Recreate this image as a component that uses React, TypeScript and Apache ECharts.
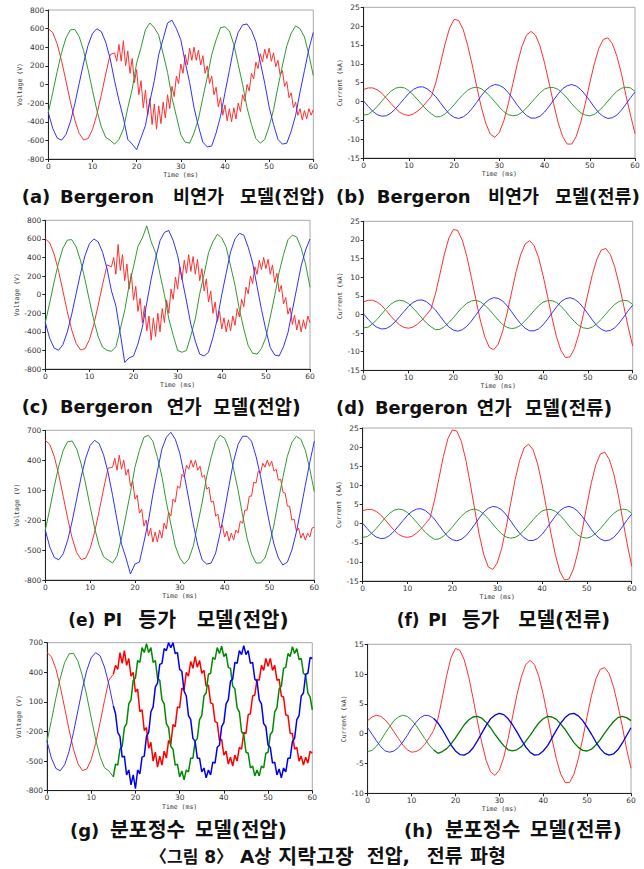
import React, { useEffect, useRef } from "react";
import * as echarts from "echarts";

// ---------- time bases (ms) ----------
const tMs = [0,1,2,3,4,5,6,7,8,9,10,11,12,13,14,15,16,17,18,19,20,21,22,23,24,25,26,27,28,29,30,31,32,33,34,35,36,37,38,39,40,41,42,43,44,45,46,47,48,49,50,51,52,53,54,55,56,57,58,59,60];
const tFine = [15,15.5,16,16.5,17,17.5,18,18.5,19,19.5,20,20.5,21,21.5,22,22.5,23,23.5,24,24.5,25,25.5,26,26.5,27,27.5,28,28.5,29,29.5,30,30.5,31,31.5,32,32.5,33,33.5,34,34.5,35,35.5,36,36.5,37,37.5,38,38.5,39,39.5,40,40.5,41,41.5,42,42.5,43,43.5,44,44.5,45,45.5,46,46.5,47,47.5,48,48.5,49,49.5,50,50.5,51,51.5,52,52.5,53,53.5,54,54.5,55,55.5,56,56.5,57,57.5,58,58.5,59,59.5,60];

// ---------- voltages before the fault (0..14 ms) ----------
const vPreRed = [600,558,437,255,38,-185,-382,-526,-595,-581,-485,-321,-112,112,321];
const vPreGreen = [-300,-88,137,342,500,587,592,513,363,161,-63,-278,-454,-567,-599];
const vPreBlue = [-300,-470,-574,-598,-537,-401,-209,13,233,420,548,599,568,454,278];

// ---------- (a) Bergeron untransposed, voltage after the fault ----------
const aRedPost = [340,250,430,250,470,200,360,120,280,20,160,-110,40,-250,-60,-330,-150,-430,-210,-480,-230,-420,-190,-360,-110,-260,-20,-130,90,10,220,120,320,210,390,260,400,260,370,210,310,120,200,10,90,-110,-30,-240,-140,-330,-220,-390,-260,-400,-250,-370,-200,-290,-110,-180,0,-70,120,60,240,170,330,240,380,280,390,250,340,190,260,100,150,-20,30,-140,-90,-250,-190,-330,-260,-380,-280,-370,-260,-330,-270];
const aGreenPost = [-640,-590,-480,-250,-50,230,400,590,660,610,530,330,130,-140,-340,-540,-620,-630,-520,-370,-140,80,320,480,610,620,575,430,215,0,-250,-430,-580,-630,-590,-450,-270,-25,200,415,550,630,600,510,320,95];
const aBluePost = [40,-170,-360,-590,-640,-700,-570,-440,-180,40,320,490,660,690,600,480,240,20,-250,-450,-620,-670,-660,-520,-340,-90,150,400,560,640,650,580,460,240,15,-240,-430,-590,-640,-630,-500,-330,-80,150,380,560];

// ---------- (c) Bergeron transposed, voltage after the fault ----------
const cRedPost = [300,400,220,540,260,430,150,330,60,230,-60,90,-180,-40,-300,-120,-390,-230,-490,-250,-450,-200,-400,-150,-300,-60,-200,60,-50,190,60,300,160,370,230,430,250,410,220,380,150,280,40,170,-80,40,-200,-80,-290,-180,-370,-250,-400,-270,-390,-230,-330,-150,-240,-50,-130,80,10,200,120,300,220,370,270,400,280,380,220,320,130,230,30,100,-100,-30,-210,-140,-320,-220,-380,-270,-400,-270,-370,-230,-300];
const cGreenPost = [-610,-560,-370,-170,100,300,520,610,740,570,450,220,0,-260,-440,-600,-620,-600,-440,-260,10,220,450,570,650,610,510,310,100,-160,-370,-550,-630,-640,-580,-460,-240,-10,240,430,590,640,620,500,330,80];
const cBluePost = [40,-120,-420,-730,-680,-660,-530,-350,-90,170,390,580,670,690,580,420,170,-70,-320,-500,-640,-660,-620,-460,-260,0,230,460,600,660,640,510,340,90,-160,-380,-570,-650,-660,-560,-410,-170,70,310,480,600];

// ---------- (e) PI model, voltage after the fault ----------
const eRedPost = [330,420,300,450,310,400,250,310,140,190,10,50,-130,-90,-260,-200,-360,-280,-420,-320,-420,-300,-380,-230,-290,-120,-160,10,-20,140,120,260,230,350,310,400,330,400,300,340,230,250,110,130,-20,-10,-160,-140,-280,-250,-370,-310,-410,-330,-400,-300,-330,-210,-230,-100,-100,40,40,180,170,290,270,370,330,400,340,390,290,310,200,210,80,70,-60,-60,-200,-190,-310,-280,-380,-330,-400,-330,-370,-280,-270];
const eGreenPost = [-630,-560,-380,-150,80,330,500,630,650,590,430,240,-20,-240,-460,-580,-640,-590,-460,-240,-20,240,430,590,650,620,510,310,100,-150,-380,-540,-630,-630,-580,-440,-250,0,230,440,580,640,610,500,310,85];
const eBluePost = [50,-200,-440,-580,-740,-640,-620,-420,-210,60,290,510,630,680,610,470,250,10,-240,-450,-600,-640,-630,-530,-330,-100,150,390,560,640,640,590,440,240,0,-230,-440,-580,-650,-620,-500,-320,-90,150,380,590];

// ---------- (g) distributed-parameter model, voltage after the fault ----------
const gRedPost = [380,470,430,600,490,620,470,540,360,400,200,230,0,20,-190,-160,-370,-310,-500,-410,-560,-450,-540,-400,-470,-290,-330,-130,-150,50,40,240,220,400,360,510,440,560,450,520,390,420,260,270,90,80,-100,-110,-290,-280,-440,-400,-530,-460,-550,-440,-500,-360,-380,-210,-220,-30,-20,160,170,330,320,470,420,540,460,540,420,470,320,330,160,150,-30,-40,-220,-220,-380,-360,-500,-450,-540,-460,-520,-400,-420];
const gGreenPost = [-660,-530,-540,-380,-350,-160,-120,80,120,320,340,520,500,650,600,690,600,650,500,520,340,320,120,80,-120,-160,-350,-380,-540,-530,-660,-600,-690,-590,-610,-470,-470,-300,-270,-80,-40,160,190,380,390,550,530,650,590,665,560,590,450,440,260,230,40,0,-200,-230,-410,-420,-570,-550,-650,-590,-650,-550,-570,-420,-410,-230,-200,0,40,230,260,440,450,590,560,660,590,640,530,540,390,370,190,150,20];
const gBluePost = [60,-20,-210,-250,-460,-450,-640,-590,-740,-640,-780,-590,-630,-460,-450,-250,-210,0,50,250,290,480,490,640,620,700,650,700,590,600,430,410,210,160,-40,-80,-270,-300,-470,-470,-610,-570,-670,-590,-640,-510,-520,-360,-340,-150,-110,80,120,310,330,500,490,620,580,670,580,620,490,500,330,310,120,80,-120,-150,-340,-360,-520,-510,-640,-580,-670,-570,-610,-470,-470,-300,-270,-80,-40,160,190,380,390,550,540];

// ---------- currents (kA), 0..60 ms ----------
const curRedB = [3.2,3.6,3.6,3.1,2.2,0.9,-0.5,-1.8,-2.9,-3.5,-3.7,-3.3,-2.5,-1.4,0.0,1.4,5.2,10.2,15.3,19.5,21.8,21.5,19.1,14.9,9.7,3.9,-1.5,-5.8,-8.7,-9.5,-8.2,-5.1,-0.5,4.8,10.1,14.6,17.6,18.6,17.6,14.7,10.2,4.9,-0.6,-5.6,-9.3,-11.3,-11.3,-9.3,-5.5,-0.6,4.9,10.0,14.1,16.5,16.9,15.3,12.0,7.4,1.6,-3.6,-8.5];
const curRedD = [3.4,3.8,3.8,3.3,2.4,1.1,-0.4,-1.7,-2.8,-3.5,-3.7,-3.4,-2.6,-1.5,-0.1,1.4,5.5,10.8,16.2,20.5,22.8,22.5,19.9,15.6,10.0,4.1,-1.5,-6.0,-8.8,-9.5,-8.0,-4.5,0.4,6.0,11.5,16.0,18.9,19.8,18.5,15.3,10.5,4.9,-0.9,-6.0,-9.7,-11.6,-11.4,-9.2,-5.2,0.0,5.5,10.7,14.8,17.3,17.7,16.1,12.7,7.9,2.3,-3.4,-8.5];
const curRedF = [3.4,3.7,3.7,3.2,2.3,1.0,-0.4,-1.7,-2.8,-3.4,-3.6,-3.3,-2.5,-1.4,0.0,1.4,6.0,11.8,17.6,22.2,24.5,24.2,21.5,16.7,10.4,3.6,-2.9,-8.1,-11.3,-12.0,-10.3,-6.5,-1.0,5.3,11.5,16.5,19.8,20.8,19.3,15.7,10.3,3.9,-2.6,-8.3,-12.6,-14.7,-14.5,-11.9,-7.4,-1.5,4.8,10.7,15.4,18.2,18.7,16.8,13.0,7.6,1.0,-5.3,-11.1];
const curRedH = [2.2,2.8,3.1,2.9,2.3,1.4,0.3,-0.8,-1.9,-2.7,-3.1,-3.0,-2.6,-1.8,-0.7,0.5,2.5,6.0,9.8,12.8,14.3,14.0,12.4,9.6,6.0,2.1,-1.5,-4.5,-6.4,-7.0,-6.1,-4.0,-0.8,2.8,6.5,9.5,11.6,12.3,11.6,9.6,6.6,2.9,-0.9,-4.3,-6.8,-8.2,-8.2,-6.8,-4.2,-0.8,2.9,6.4,9.2,10.8,11.1,10.1,7.9,4.8,1.3,-2.6,-5.8];
const curBlueB = [0.1,-1.3,-2.6,-3.5,-3.9,-3.8,-3.1,-2.0,-0.6,0.8,2.2,3.2,3.8,3.9,3.4,2.4,1.2,-0.4,-2.0,-3.4,-4.2,-4.5,-4.1,-3.2,-1.8,-0.2,1.5,3.0,4.0,4.5,4.3,3.6,2.3,0.7,-1.0,-2.5,-3.7,-4.4,-4.4,-3.9,-2.8,-1.3,0.4,2.0,3.4,4.2,4.5,4.1,3.2,1.8,0.2,-1.5,-3.0,-4.0,-4.5,-4.3,-3.6,-2.3,-0.7,1.0,2.5];
const curGreenB = [-3.6,-3.4,-2.5,-1.3,0.1,1.5,2.7,3.5,3.8,3.6,2.9,1.7,0.4,-1.0,-2.3,-3.3,-4.1,-4.0,-3.3,-2.2,-0.9,0.6,1.9,3.0,3.6,3.8,3.4,2.5,1.3,-0.1,-1.5,-2.7,-3.5,-3.8,-3.6,-2.9,-1.7,-0.4,1.0,2.3,3.3,3.7,3.7,3.2,2.2,0.9,-0.6,-1.9,-3.0,-3.6,-3.8,-3.4,-2.5,-1.3,0.1,1.5,2.7,3.5,3.8,3.6,2.7];
const curBlueH = [1.0,-0.1,-1.2,-2.2,-2.9,-3.1,-2.9,-2.3,-1.4,-0.3,0.9,1.9,2.7,3.1,3.0,2.6,1.8,0.7,-0.6,-1.9,-2.9,-3.5,-3.6,-3.2,-2.4,-1.2,0.1,1.4,2.5,3.1,3.4,3.2,2.5,1.5,0.3,-1.0,-2.2,-3.1,-3.6,-3.5,-2.9,-2.0,-0.7,0.6,1.8,2.7,3.3,3.4,3.0,2.2,1.1,-0.1,-1.4,-2.5,-3.3,-3.6,-3.4,-2.7,-1.6,-0.3,1.0];
const curGreenH = [-3.0,-2.8,-2.1,-1.1,0.1,1.2,2.2,2.8,3.1,2.9,2.3,1.4,0.3,-0.8,-1.9,-2.7,-3.3,-3.0,-2.5,-1.7,-0.7,0.4,1.5,2.3,2.8,2.9,2.6,1.9,1.0,-0.1,-1.1,-2.0,-2.7,-2.9,-2.7,-2.2,-1.3,-0.3,0.8,1.8,2.5,2.9,2.8,2.4,1.6,0.7,-0.4,-1.5,-2.3,-2.8,-2.9,-2.6,-1.9,-1.0,0.1,1.1,2.0,2.7,2.9,2.7,2.2];

// ---------- axis settings ----------
const voltTicksA = { min: -800, max: 800, interval: 200 };
const voltTicksE = { min: -800, max: 700, interval: 300 };
const curTicksB = { min: -15, max: 25, interval: 5 };
const curTicksH = { min: -10, max: 15, interval: 5 };

// ---------- captions: [text, left x, centre y, font size] ----------
const captions: [string, number, number, number][] = [
  ["(a)", 21.7, 196, 18], ["Bergeron", 60, 196, 18], ["비연가", 173, 196, 18.5], ["모델(전압)", 240, 196, 18.5],
  ["(b)", 336, 196, 18], ["Bergeron", 376.7, 196, 18], ["비연가", 488, 196, 18.5], ["모델(전류)", 555, 196, 18.5],
  ["(c)", 21.7, 406.5, 17.8], ["Bergeron", 60, 406.5, 17.8], ["연가", 166.7, 406.5, 19], ["모델(전압)", 213.3, 406.5, 19],
  ["(d)", 336, 407.5, 17.8], ["Bergeron", 375, 407.5, 17.8], ["연가", 476.7, 407.5, 19], ["모델(전류)", 525, 407.5, 19],
  ["(e)", 68.3, 620, 17], ["PI", 103.3, 620, 17], ["등가", 138.3, 620, 20.5], ["모델(전압)", 196.7, 620, 20],
  ["(f)", 396.7, 620, 17], ["PI", 428.3, 620, 17], ["등가", 461.7, 620, 20.5], ["모델(전류)", 518.3, 620, 20],
  ["(g)", 70, 830, 18], ["분포정수", 110, 830, 20.5], ["모델(전압)", 195, 830, 20],
  ["(h)", 404, 830, 18], ["분포정수", 445, 830, 20.5], ["모델(전류)", 530, 830, 20],
  ["〈그림 8〉", 150, 856.5, 17], ["A상", 240, 856.5, 18.5], ["지락고장", 278.3, 856.5, 20.5], ["전압,", 366.7, 856.5, 19.5], ["전류", 426.7, 856.5, 19.5], ["파형", 470, 856.5, 19.5],
];

const RED = "#ff3030";
const GREEN = "#2f9a2f";
const BLUE = "#3030ff";

const panels = [
  { l: 48.3, t: 10, w: 265, h: 149, ax: voltTicksA, name: "Voltage (V)" },
  { l: 363.7, t: 7.3, w: 271.3, h: 150.7, ax: curTicksB, name: "Current (kA)" },
  { l: 45.3, t: 220.3, w: 264.7, h: 148.7, ax: voltTicksA, name: "Voltage (V)" },
  { l: 363.7, t: 221.3, w: 269, h: 149, ax: curTicksB, name: "Current (kA)" },
  { l: 45.3, t: 430.3, w: 269, h: 149.7, ax: voltTicksE, name: "Voltage (V)" },
  { l: 362.7, t: 428, w: 269, h: 153, ax: curTicksB, name: "Current (kA)" },
  { l: 47, t: 642.7, w: 265.3, h: 148, ax: voltTicksE, name: "Voltage (V)" },
  { l: 367.7, t: 644.3, w: 263.3, h: 149, ax: curTicksH, name: "Current (kA)" },
];

const zip = (ts: number[], vs: number[]) => ts.map((t, i) => [t, vs[i]]);

function line(idx: number, ts: number[], vs: number[], color: string, width = 1) {
  return {
    type: "line",
    xAxisIndex: idx,
    yAxisIndex: idx,
    data: zip(ts, vs),
    showSymbol: false,
    symbol: "none",
    silent: true,
    animation: false,
    lineStyle: { color, width },
    itemStyle: { color },
  };
}

function buildOption() {
  const tPre = tMs.slice(0, 15);
  const tRedV = tPre.concat(tFine);
  const series: any[] = [];
  const volt: [number, number[], number[], number[]][] = [
    [0, aRedPost, aGreenPost, aBluePost],
    [2, cRedPost, cGreenPost, cBluePost],
    [4, eRedPost, eGreenPost, eBluePost],
  ];
  volt.forEach(([i, r, g, b]) => {
    series.push(line(i, tRedV, vPreRed.concat(r), RED));
    series.push(line(i, tMs, vPreGreen.concat(g), GREEN));
    series.push(line(i, tMs, vPreBlue.concat(b), BLUE));
  });
  const t016 = tMs.slice(0, 16);
  series.push(line(6, t016, vPreRed.concat([gRedPost[0]]), RED));
  series.push(line(6, t016, vPreGreen.concat([gGreenPost[0]]), GREEN));
  series.push(line(6, t016, vPreBlue.concat([gBluePost[0]]), BLUE));
  series.push(line(6, tFine, gRedPost, "#ff0000", 1.5));
  series.push(line(6, tFine, gGreenPost, "#008a00", 1.5));
  series.push(line(6, tFine, gBluePost, "#0000f0", 1.5));
  const cur: [number, number[]][] = [[1, curRedB], [3, curRedD], [5, curRedF]];
  cur.forEach(([i, r]) => {
    series.push(line(i, tMs, r, RED));
    series.push(line(i, tMs, curGreenB, GREEN));
    series.push(line(i, tMs, curBlueB, BLUE));
  });
  const t15 = tMs.slice(15);
  series.push(line(7, tMs, curRedH, RED));
  series.push(line(7, t016, curGreenH.slice(0, 16), GREEN));
  series.push(line(7, t15, curGreenH.slice(15), "#007a00", 1.3));
  series.push(line(7, t016, curBlueH.slice(0, 16), BLUE));
  series.push(line(7, t15, curBlueH.slice(15), "#0000e0", 1.3));

  const labelStyle = { fontSize: 7.5, color: "#333", fontFamily: "DejaVu Sans" };
  const nameStyle = { fontSize: 6.5, color: "#333", fontFamily: "DejaVu Sans Mono" };
  const axisLine = { show: true, onZero: false, lineStyle: { color: "#222", width: 1 } };
  const axisTick = { show: true, length: 3, lineStyle: { color: "#222", width: 1 } };

  return {
    animation: false,
    backgroundColor: "#ffffff",
    grid: panels.map((p) => ({
      left: p.l, top: p.t, width: p.w, height: p.h,
      show: true, borderColor: "#a8a8a8", borderWidth: 1, backgroundColor: "transparent",
      containLabel: false, outerBoundsMode: "none",
    })),
    xAxis: panels.map((p, i) => ({
      type: "value", gridIndex: i, min: 0, max: 60, interval: 10,
      axisLine, axisTick, splitLine: { show: false },
      axisLabel: { ...labelStyle, margin: 3 },
      name: "Time (ms)", nameLocation: "middle", nameGap: 12.5, nameTextStyle: nameStyle,
    })),
    yAxis: panels.map((p, i) => ({
      type: "value", gridIndex: i, min: p.ax.min, max: p.ax.max, interval: p.ax.interval,
      axisLine, axisTick, splitLine: { show: false },
      axisLabel: { ...labelStyle, margin: 4 },
      name: p.name, nameLocation: "middle", nameGap: 19, nameTextStyle: nameStyle,
    })),
    series,
    graphic: captions.map(([text, x, y, size]) => ({
      type: "text", x, y, silent: true,
      style: {
        text, fill: "#111", fontSize: size, fontWeight: "bold",
        fontFamily: "'DejaVu Sans', 'Noto Sans CJK KR', sans-serif",
        verticalAlign: "middle", align: "left",
      },
    })),
  };
}

export default function App() {
  const ref = useRef<HTMLDivElement>(null);
  useEffect(() => {
    if (!ref.current) return;
    const chart = echarts.init(ref.current, null, { renderer: "svg" });
    chart.setOption(buildOption() as any);
    return () => chart.dispose();
  }, []);
  return (
    <div
      ref={ref}
      style={{ position: "absolute", left: 0, top: 0, width: 644, height: 869, background: "#fff" }}
    />
  );
}
